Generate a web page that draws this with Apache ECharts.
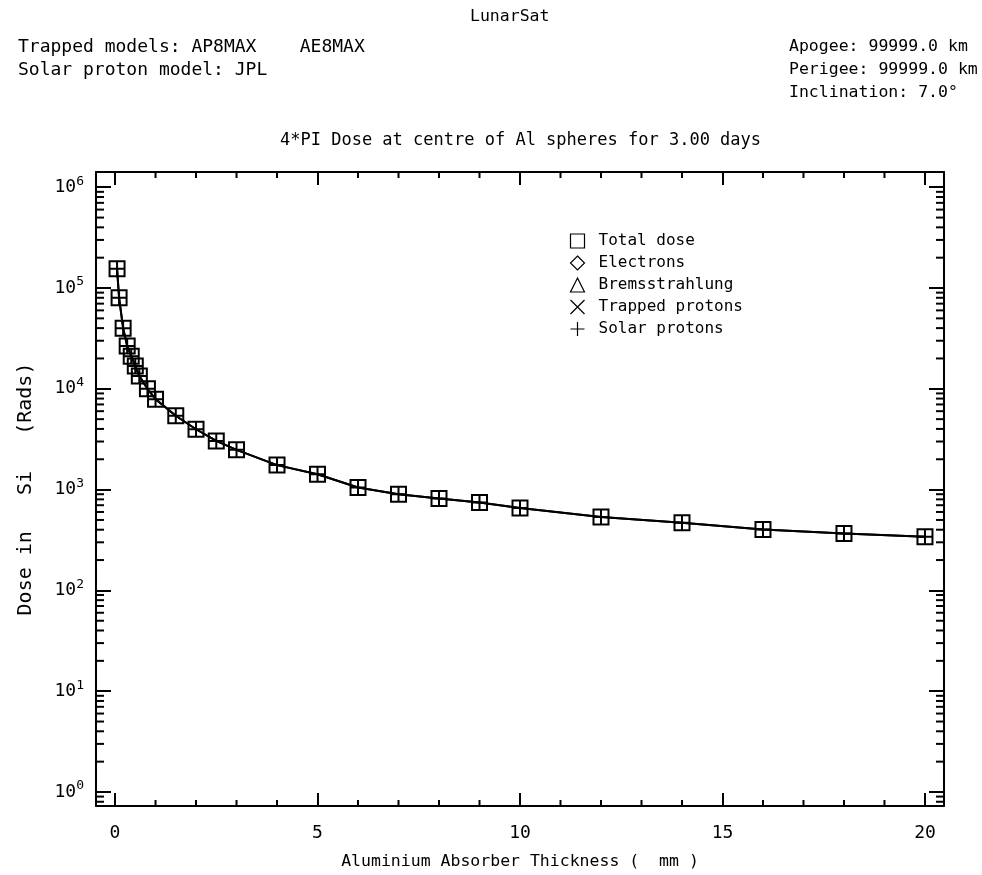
<!DOCTYPE html>
<html>
<head>
<meta charset="utf-8">
<title>LunarSat dose-depth curve</title>
<script src="https://cdn.jsdelivr.net/npm/echarts@6/dist/echarts.min.js"></script>
<style>
  html, body { margin: 0; padding: 0; background: #fff; }
  #chart { width: 982px; height: 875px; }
</style>
</head>
<body>
<div id="chart"></div>
<script>
// aluminium shield thickness (mm)
const thickness = [0.05, 0.1, 0.2, 0.3, 0.4, 0.5, 0.6, 0.8, 1.0, 1.5, 2.0, 2.5, 3.0,
  4.0, 5.0, 6.0, 7.0, 8.0, 9.0, 10, 12, 14, 16, 18, 20]
// dose in Si (rads)
const totalDose = [155000, 80000, 40000, 26600, 21100, 16800, 13400, 10000, 7900, 5400, 3970, 3040, 2480,
  1750, 1420, 1050, 900, 815, 743, 658, 535, 468, 402, 367, 340]
const solarProtons = [155000, 80000, 40000, 26600, 21100, 16800, 13400, 10000, 7900, 5400, 3970, 3040, 2480,
  1750, 1420, 1050, 900, 815, 743, 658, 535, 468, 402, 367, 340]
// nothing plotted for these at lunar distance
const electrons = []
const bremsstrahlung = []
const trappedProtons = []

// axis ticks
const xMajor = [0, 5, 10, 15, 20]
const xMinor = [1, 2, 3, 4, 6, 7, 8, 9, 11, 12, 13, 14, 16, 17, 18, 19]
const yExponents = [0, 1, 2, 3, 4, 5, 6]
const yMinorMult = [2, 3, 4, 5, 6, 7, 8, 9]

const xMin = -0.47
const xMax = 20.47
const yMin = 0.726
const yMax = 1.416e6

const FONT = 'DejaVu Sans Mono'
const BLACK = '#000'

const yMinor = []
for (let k = -1; k <= 6; k++) {
  yMinorMult.forEach(m => {
    const v = m * Math.pow(10, k)
    if (v > yMin && v < yMax) yMinor.push([0, v])
  })
}

function pair(xs, ys) {
  return xs.map((x, i) => [x, ys[i]])
}

function label(text, left, top, size) {
  return {
    text: text, left: left, top: top, padding: 0,
    textStyle: { fontFamily: FONT, fontSize: size, fontWeight: 'normal', color: BLACK }
  }
}

const chart = echarts.init(document.getElementById('chart'))

const axisLine = { show: true, onZero: false, lineStyle: { color: BLACK, width: 2 } }
const legendIcon = { color: 'none', borderColor: BLACK, borderWidth: 1.2 }

chart.setOption({
  animation: false,
  backgroundColor: '#fff',
  textStyle: { fontFamily: FONT, color: BLACK },
  title: [
    label('LunarSat', 470, 8, 16.5),
    label('Trapped models: AP8MAX    AE8MAX', 18, 38, 18),
    label('Solar proton model: JPL', 18, 61, 18),
    label('Apogee: 99999.0 km', 789, 38, 16.5),
    label('Perigee: 99999.0 km', 789, 61, 16.5),
    label('Inclination: 7.0°', 789, 84, 16.5),
    label('4*PI Dose at centre of Al spheres for 3.00 days', 280, 132, 17)
  ],
  legend: {
    orient: 'vertical',
    left: 568,
    top: 231,
    padding: 0,
    itemWidth: 14,
    itemHeight: 14,
    itemGap: 2,
    selectedMode: false,
    textStyle: { fontFamily: FONT, fontSize: 16, color: BLACK, lineHeight: 20, padding: [0, 0, 0, 9] },
    data: [
      { name: 'Total dose', icon: 'rect', itemStyle: legendIcon },
      { name: 'Electrons', icon: 'diamond', itemStyle: legendIcon },
      { name: 'Bremsstrahlung', icon: 'triangle', itemStyle: legendIcon },
      { name: 'Trapped protons', icon: 'path://M0,0L10,10M10,0L0,10', itemStyle: legendIcon },
      { name: 'Solar protons', icon: 'path://M5,0L5,10M0,5L10,5', itemStyle: legendIcon }
    ]
  },
  grid: { left: 96, top: 172, width: 848, height: 636 },
  xAxis: [{
    type: 'value',
    min: xMin,
    max: xMax,
    splitNumber: 4,
    name: 'Aluminium Absorber Thickness (  mm )',
    nameLocation: 'middle',
    nameGap: 47,
    nameTextStyle: { fontFamily: FONT, fontSize: 16.5, color: BLACK },
    axisLine: axisLine,
    axisTick: { show: true, inside: true, length: 13, lineStyle: { color: BLACK, width: 2 } },
    axisLabel: {
      margin: 18,
      fontFamily: FONT,
      fontSize: 18,
      color: BLACK,
      showMinLabel: false,
      showMaxLabel: false,
      formatter: v => (xMajor.indexOf(v) >= 0 ? String(v) : '')
    },
    splitLine: { show: false }
  }, {
    type: 'value',
    position: 'top',
    min: xMin,
    max: xMax,
    splitNumber: 4,
    axisLine: axisLine,
    axisTick: { show: true, inside: true, length: 13, lineStyle: { color: BLACK, width: 2 } },
    axisLabel: { show: false },
    splitLine: { show: false }
  }],
  yAxis: [{
    type: 'log',
    logBase: 10,
    min: yMin,
    max: yMax,
    name: 'Dose in   Si   (Rads)',
    nameLocation: 'middle',
    nameGap: 60,
    nameRotate: 90,
    nameTextStyle: { fontFamily: FONT, fontSize: 20, color: BLACK },
    axisLine: axisLine,
    axisTick: { show: true, inside: true, length: 15, lineStyle: { color: BLACK, width: 2 } },
    axisLabel: {
      margin: 12,
      showMinLabel: false,
      showMaxLabel: false,
      formatter: v => {
        const e = Math.round(Math.log10(v))
        if (Math.abs(Math.log10(v) - e) > 1e-6 || yExponents.indexOf(e) < 0) return ''
        return '{b|10}{e|' + e + '}'
      },
      rich: {
        b: { fontFamily: FONT, fontSize: 18, color: BLACK },
        e: { fontFamily: FONT, fontSize: 13, color: BLACK, padding: [0, 0, 12, 0] }
      }
    },
    splitLine: { show: false }
  }, {
    type: 'log',
    logBase: 10,
    position: 'right',
    min: yMin,
    max: yMax,
    axisLine: axisLine,
    axisTick: { show: true, inside: true, length: 15, lineStyle: { color: BLACK, width: 2 } },
    axisLabel: { show: false },
    splitLine: { show: false }
  }],
  series: [
    {
      name: 'Total dose',
      type: 'line',
      data: pair(thickness, totalDose),
      symbol: 'rect',
      symbolSize: 15,
      itemStyle: { color: 'none', borderColor: BLACK, borderWidth: 2 },
      lineStyle: { color: BLACK, width: 2 },
      z: 3
    },
    { name: 'Electrons', type: 'line', data: electrons, symbol: 'diamond' },
    { name: 'Bremsstrahlung', type: 'line', data: bremsstrahlung, symbol: 'triangle' },
    { name: 'Trapped protons', type: 'line', data: trappedProtons },
    {
      name: 'Solar protons',
      type: 'line',
      data: pair(thickness, solarProtons),
      symbol: 'path://M5,0L5,10M0,5L10,5',
      symbolSize: 15,
      itemStyle: { color: 'none', borderColor: BLACK, borderWidth: 2 },
      lineStyle: { color: BLACK, width: 2 },
      z: 4
    },
    {
      // minor log ticks on left and right frame
      type: 'custom',
      silent: true,
      clip: false,
      data: yMinor,
      renderItem: (params, api) => {
        const cs = params.coordSys
        const y = api.coord([0, api.value(1)])[1]
        const st = { stroke: BLACK, lineWidth: 2 }
        return {
          type: 'group',
          children: [
            { type: 'line', shape: { x1: cs.x, y1: y, x2: cs.x + 8, y2: y }, style: st },
            { type: 'line', shape: { x1: cs.x + cs.width - 8, y1: y, x2: cs.x + cs.width, y2: y }, style: st }
          ]
        }
      }
    },
    {
      // minor linear ticks on bottom and top frame
      type: 'custom',
      silent: true,
      clip: false,
      data: xMinor.map(x => [x, 1]),
      renderItem: (params, api) => {
        const cs = params.coordSys
        const x = api.coord([api.value(0), 1])[0]
        const st = { stroke: BLACK, lineWidth: 2 }
        return {
          type: 'group',
          children: [
            { type: 'line', shape: { x1: x, y1: cs.y + cs.height, x2: x, y2: cs.y + cs.height - 6 }, style: st },
            { type: 'line', shape: { x1: x, y1: cs.y, x2: x, y2: cs.y + 6 }, style: st }
          ]
        }
      }
    }
  ]
})
</script>
</body>
</html>
